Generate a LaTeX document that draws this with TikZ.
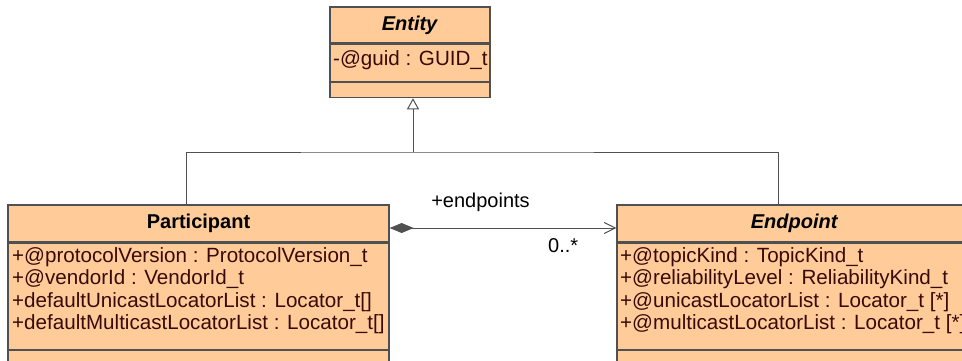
\documentclass[tikz,border=0pt]{standalone}
\usepackage{fontspec}
\setmainfont{Liberation Sans}
\usetikzlibrary{arrows.meta}
\definecolor{classfill}{RGB}{255,204,153}
\definecolor{classline}{RGB}{80,80,80}
\definecolor{attrtext}{RGB}{56,10,10}
\tikzset{
  compart/.style={draw=classline,line width=1.3pt,fill=classfill,inner sep=0pt,font=\fontsize{20}{22}\selectfont},
  attr/.style={anchor=base west,inner sep=0pt,text=attrtext,font=\fontsize{20.6}{22}\selectfont},
  lbl/.style={inner sep=0pt,font=\fontsize{20}{22}\selectfont},
  conn/.style={draw=classline,line width=1pt}
}
\begin{document}
\begin{tikzpicture}[x=1pt,y=-1pt]
\useasboundingbox (0,0) rectangle (962,360);
% entity
\node[compart,minimum width=160pt,minimum height=36pt] (etitle) at (410,25) {\textbf{\textit{Entity}}};
\node[compart,minimum width=160pt,minimum height=37pt,anchor=north] (eattr) at (etitle.south) {};
\node[compart,minimum width=160pt,minimum height=15pt,anchor=north] (eops) at (eattr.south) {};
\node[attr] (eguid) at (333,65) {-@guid : GUID\_t};
% participant
\node[compart,minimum width=381pt,minimum height=37pt] (ptitle) at (198.5,223.5) {\textbf{Participant}};
\node[compart,minimum width=381pt,minimum height=106pt,anchor=north] (pattr) at (ptitle.south) {};
\node[compart,minimum width=381pt,minimum height=24pt,anchor=north] (pops) at (pattr.south) {};
\node[attr] (pver) at (12,262) {+@protocolVersion : ProtocolVersion\_t};
\node[attr] (pvend) at (12,284.5) {+@vendorId : VendorId\_t};
\node[attr] (puni) at (12,307) {+defaultUnicastLocatorList : Locator\_t[]};
\node[attr] (pmulti) at (12,329.5) {+defaultMulticastLocatorList : Locator\_t[]};
% endpoint
\node[compart,minimum width=355pt,minimum height=37pt] (dtitle) at (794.5,223.5) {\textbf{\textit{Endpoint}}};
\node[compart,minimum width=355pt,minimum height=106pt,anchor=north] (dattr) at (dtitle.south) {};
\node[compart,minimum width=355pt,minimum height=24pt,anchor=north] (dops) at (dattr.south) {};
\node[attr] (dtopic) at (620,262) {+@topicKind : TopicKind\_t};
\node[attr] (drel) at (620,284.5) {+@reliabilityLevel : ReliabilityKind\_t};
\node[attr] (duni) at (620,307) {+@unicastLocatorList : Locator\_t [*]};
\node[attr] (dmulti) at (620,329.5) {+@multicastLocatorList : Locator\_t [*]};
% generalization
\coordinate (split) at (413,152);
\draw[conn,-{Triangle[open,length=11pt,width=12pt,fill=white]}] (split) -- ([xshift=3pt]eops.south);
\draw[conn] ([xshift=-12.5pt]ptitle.north) |- (split) -| ([xshift=-16.5pt]dtitle.north);
% association
\draw[conn,{Diamond[length=24pt,width=10pt,fill=classline]}-{Straight Barb[length=11pt,width=11pt]}] ([yshift=-4.5pt]ptitle.east) -- ([yshift=-4.5pt]dtitle.west);
\node[lbl,anchor=base] (ends) at (480.5,207) {+endpoints};
\node[lbl,anchor=base west] (mult) at (548,252) {0..*};
\end{tikzpicture}
\end{document}
